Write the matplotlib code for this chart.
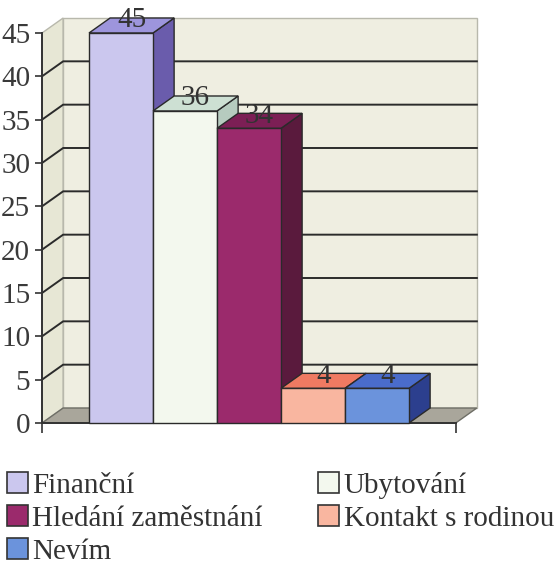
import matplotlib
matplotlib.use('Agg')
import matplotlib.pyplot as plt
from matplotlib.patches import Polygon, Patch

# -------------------------- data --------------------------
categories = ['Finanční', 'Ubytování', 'Hledání zaměstnání', 'Kontakt s rodinou', 'Nevím']
values = [45, 36, 34, 4, 4]
y_ticks = [0, 5, 10, 15, 20, 25, 30, 35, 40, 45]

front_colors = ['#cbc7ee', '#f3f8ee', '#9b2a6c', '#f9b6a0', '#6b93dc']
top_colors = ['#9d95dc', '#cde0d3', '#7c1f55', '#ef7a62', '#4a6ccb']
side_colors = ['#6a5cac', '#b6cbbf', '#5a1a3d', '#d0604c', '#2c3f8e']

# -------------------------- pseudo-3D geometry (data units) --------------------------
DX = 0.33       # depth offset in x
DY = 1.73       # depth offset in y
AX_X = -1.234   # position of the front value axis
FLOOR_R = 5.23  # right end of the floor
WIDTH = 1.0
EDGE = '#2a2a2a'
FS = 21

plt.rcParams['font.family'] = ['Liberation Serif', 'DejaVu Serif']

fig = plt.figure(figsize=(5.54, 5.71), dpi=100)
ax = fig.add_axes([0, 0, 1, 1])
ax.set_xlim(-121 / 64, (554 - 121) / 64)
ax.set_ylim((423 - 571) / 8.667, 423 / 8.667)
ymax = y_ticks[-1]

# walls and floor
left_wall = Polygon([(AX_X, 0), (AX_X, ymax), (AX_X + DX, ymax + DY), (AX_X + DX, DY)],
                    closed=True, fc='#e7e7d5', ec='#b8b8ac', lw=1, zorder=1)
back_wall = Polygon([(AX_X + DX, DY), (FLOOR_R + DX, DY), (FLOOR_R + DX, ymax + DY), (AX_X + DX, ymax + DY)],
                    closed=True, fc='#efeee1', ec='#b8b8ac', lw=1, zorder=1)
floor = Polygon([(AX_X, 0), (FLOOR_R, 0), (FLOOR_R + DX, DY), (AX_X + DX, DY)],
                closed=True, fc='#a9a69b', ec='#6e6e66', lw=1, zorder=2)
ax.add_patch(left_wall)
ax.add_patch(back_wall)
ax.add_patch(floor)

# gridlines (left wall + back wall)
for t in y_ticks[1:-1]:
    ax.plot([AX_X, AX_X + DX, FLOOR_R + DX], [t, t + DY, t + DY], color='#2b2b2b', lw=1.4, zorder=1.5)

# bars, drawn left to right so later front faces hide earlier side faces
for i, v in enumerate(values):
    z = 3 + i
    left = i - WIDTH / 2
    right = i + WIDTH / 2
    side = Polygon([(right, 0), (right + DX, DY), (right + DX, v + DY), (right, v)],
                   closed=True, fc=side_colors[i], ec=EDGE, lw=1, zorder=z)
    top = Polygon([(left, v), (right, v), (right + DX, v + DY), (left + DX, v + DY)],
                  closed=True, fc=top_colors[i], ec=EDGE, lw=1, zorder=z)
    ax.add_patch(side)
    ax.add_patch(top)
    ax.bar(i, v, width=WIDTH, color=front_colors[i], edgecolor=EDGE, lw=1, zorder=z)
    ax.text(i + DX / 2, v + DY / 2 - 0.2, str(v), ha='center', va='baseline',
            fontsize=FS, color='#333333', zorder=10)

# axes
for s in ['top', 'right']:
    ax.spines[s].set_visible(False)
ax.spines['left'].set_position(('data', AX_X))
ax.spines['left'].set_bounds(0, ymax)
ax.spines['bottom'].set_position(('data', 0))
ax.spines['bottom'].set_bounds(AX_X, FLOOR_R)
for s in ['left', 'bottom']:
    ax.spines[s].set_color('#333333')
    ax.spines[s].set_linewidth(1.4)
    ax.spines[s].set_zorder(2.5)
ax.set_yticks(y_ticks)
ax.set_yticklabels([str(t) for t in y_ticks])
ax.tick_params(axis='y', direction='out', length=5, width=1.2, color='#333333',
               labelsize=FS, labelcolor='#3a3a3a', pad=3.5)
ax.set_xticks([AX_X, FLOOR_R])
ax.set_xticklabels(['', ''])
ax.tick_params(axis='x', direction='out', length=7, width=1.2, color='#333333')

# legend (row-wise order: fill columns accordingly)
order = [0, 2, 4, 1, 3]
handles = [Patch(fc=front_colors[k], ec='#333333', lw=1.2, label=categories[k]) for k in order]
fig.legend(handles=handles, ncol=2, loc='upper left', bbox_to_anchor=(7 / 554, 1 - 472 / 571),
           frameon=False, fontsize=FS, handlelength=0.72, handleheight=0.72, handletextpad=0.15,
           columnspacing=1.9, labelspacing=0.22, borderpad=0, borderaxespad=0, labelcolor='#333333')

fig.savefig('out.png', dpi=100)
